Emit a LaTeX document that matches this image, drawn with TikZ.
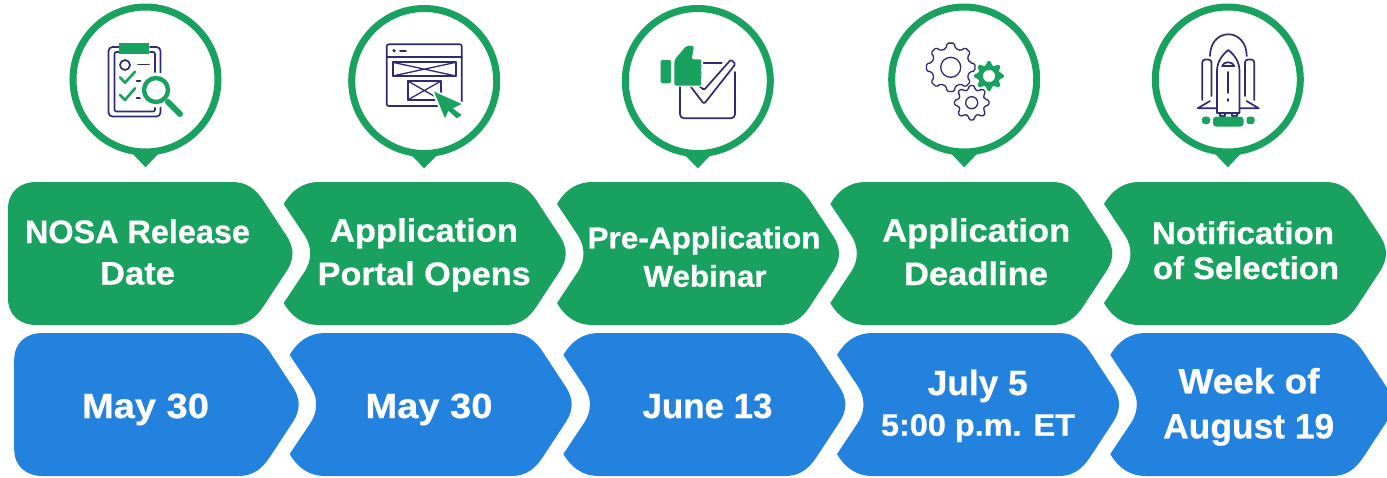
\documentclass[tikz,border=0pt]{standalone}
\usepackage{fontspec}
\usepackage{graphicx}
\setmainfont[BoldFeatures={FakeBold=0.6}]{Liberation Sans}
\definecolor{grn}{HTML}{19A25F}
\definecolor{blu}{HTML}{2482DF}
\definecolor{nvy}{HTML}{2F2B70}
\tikzset{
  ring/.style={circle,draw=grn,line width=7pt,fill=white,minimum size=145pt,inner sep=0pt},
  lbl/.style={text=white,font=\bfseries,inner sep=0pt,anchor=base},
  ink/.style={draw=nvy,line width=1.7pt,line cap=round,line join=round},
  thinink/.style={draw=nvy,line width=1.3pt,line cap=round,line join=round},
  gink/.style={draw=grn,line cap=round,line join=round}
}
\newcommand\rside{-- (222,0) .. controls (236,0) and (245,7) .. (252.5,18) -- (276.5,54.5) .. controls (280,60) and (282,66) .. (282,71.5) .. controls (282,77) and (280,83) .. (276.5,88.5) -- (252.5,125) .. controls (245,136) and (236,143) .. (222,143)}
\newcommand\chevA[3]{\fill[#3,shift={(#1,#2)}] (0,22) .. controls (8,8) and (20,0) .. (35,0) \rside -- (35,143) .. controls (20,143) and (8,135) .. (0,121) -- (21,89.5) .. controls (24.5,84) and (26.5,78) .. (26.5,71.5) .. controls (26.5,65) and (24.5,59) .. (21,53.5) -- cycle;}
\newcommand\chevF[3]{\fill[#3,shift={(#1,#2)}] (-2.5,27) .. controls (-2.5,10) and (9,0) .. (26,0) \rside -- (26,143) .. controls (9,143) and (-2.5,133) .. (-2.5,116) -- cycle;}
\newcommand\lab[6]{\node[lbl] (#1) at (#2,#3) {\fontsize{#4}{#4}\selectfont\resizebox{#5pt}{\height}{#6}};}
\newcommand\pin[4]{\node[ring] (#1) at (#2,#3) {};\fill[grn] ([xshift=-15pt,yshift=-72pt]#1.center) -- ([xshift=15pt,yshift=-72pt]#1.center) -- ([yshift=-#4pt]#1.center) -- cycle;}
% gear: cx cy Ro Ri n style
\newcommand\gear[6]{\begin{scope}[shift={(#1,#2)}]
 \pgfmathsetmacro\st{360/#5}\pgfmathsetmacro\da{0.29*\st}\pgfmathsetmacro\db{0.2*\st}
 \path[#6,rounded corners=1.6pt] (-\da:#4) \foreach \i in {1,...,#5}{ -- ({(\i-1)*\st-\db}:#3) -- ({(\i-1)*\st+\db}:#3) -- ({(\i-1)*\st+\da}:#4) -- ({\i*\st-\da}:#4)} -- cycle;
 \end{scope}}
\begin{document}
\begin{tikzpicture}[x=1pt,y=-1pt]
\clip (0,0) rectangle (1387,477);
% green row
\chevF{10.5}{182}{grn}
\chevA{283.7}{182}{grn}
\chevA{557}{182}{grn}
\chevA{830.3}{182}{grn}
\chevA{1104}{182}{grn}
% blue row
\chevF{16.7}{333}{blu}
\chevA{289.7}{333}{blu}
\chevA{563.4}{333}{blu}
\chevA{837}{333}{blu}
\chevA{1110.3}{333}{blu}
% labels
\lab{a1}{137.5}{243}{32.5}{225}{NOSA Release}
\lab{a2}{137.5}{284.5}{32.5}{75}{Date}
\lab{b1}{424}{241.7}{32.5}{188}{Application}
\lab{b2}{424.2}{285}{32.5}{213}{Portal Opens}
\lab{c1}{704}{248.3}{30}{233}{Pre-Application}
\lab{c2}{705}{286.7}{30}{123}{Webinar}
\lab{d1}{976.2}{241.7}{32.5}{188}{Application}
\lab{d2}{976}{285}{32.5}{144}{Deadline}
\lab{e1}{1243}{244}{31.5}{182}{Notification}
\lab{e2}{1246}{279}{31.5}{186}{of Selection}
\lab{f1}{145.5}{418}{35}{127}{May 30}
\lab{g1}{429}{418}{35}{127}{May 30}
\lab{h1}{707.5}{418}{35}{130}{June 13}
\lab{i1}{977.7}{395}{35}{100}{July 5}
\lab{i2}{978}{435.7}{31}{194}{5:00 p.m. ET}
\lab{j1}{1249}{393.3}{35}{141}{Week of}
\lab{j2}{1248.7}{438.3}{35}{171}{August 19}
% pins
\pin{p1}{145.5}{79.5}{87.8}
\pin{p2}{424.2}{81}{87.3}
\pin{p3}{697.8}{81}{87.3}
\pin{p4}{964.2}{79.5}{87.8}
\pin{p5}{1227.8}{79.5}{87.8}
% icon 1: clipboard
\draw[ink,rounded corners=4pt] (119,47) -- (108.5,47) -- (108.5,116.5) -- (160.5,116.5) -- (160.5,47) -- (150,47);
\draw[ink,rounded corners=2pt] (119,52) -- (114.5,52) -- (114.5,111.5) -- (155,111.5) -- (155,52) -- (150,52);
\fill[grn] (119.3,43.3) rectangle (149.3,54);
\draw[ink] (125,65) circle (5);
\draw[ink] (138,64.5) -- (149,64.5);
\draw[gink,line width=2.6pt] (120,77.3) -- (125,82.7) -- (135,71.7);
\draw[gink,line width=2.6pt] (120,95) -- (125,100) -- (135,88.3);
\draw[ink] (136.7,80.7) -- (141.7,80.7) (136.7,97.7) -- (141.7,97.7);
\draw[white,line width=9pt] (166.7,100) -- (172,106);
\filldraw[fill=white,draw=white,line width=3pt] (156,90) circle (16);
\draw[grn,line width=4.4pt,fill=white] (156,90) circle (12);
\draw[gink,line width=6pt] (168,102) -- (180,114);
% icon 2: window
\draw[ink,rounded corners=2pt] (386.7,44.3) rectangle (461.7,106);
\draw[ink] (386.7,56.7) -- (461.7,56.7);
\fill[nvy] (394,50.7) circle (1.8);
\draw[ink] (400,50.7) -- (406,50.7);
\draw[ink,line width=2.2pt] (392.7,62.3) rectangle (456,76);
\draw[thinink] (392.7,62.3) -- (456,76) (392.7,76) -- (456,62.3);
\draw[ink,line width=2.2pt] (407.7,81) rectangle (441,100);
\draw[thinink] (407.7,81) -- (441,100) (407.7,100) -- (441,81);
\path[fill=white,draw=white,line width=4pt,line join=round] (434,91.7) -- (461.7,104) -- (452.7,108.3) -- (461.7,115) -- (456.7,118.3) -- (448.3,110.7) -- (445,118.3) -- cycle;
\fill[grn] (434,91.7) -- (461.7,104) -- (452.7,108.3) -- (461.7,115) -- (456.7,118.3) -- (448.3,110.7) -- (445,118.3) -- cycle;
% icon 3: thumbs up and check box
\draw[ink] (703,63.3) -- (721.7,63.3);
\draw[ink,rounded corners=4pt] (735,72) -- (735,118.3) -- (680,118.3) -- (680,85);
\filldraw[fill=white,draw=white,line width=3pt,line join=round] (691,87) -- (704,103) -- (735.5,64) -- (731,59.5) -- (704,90) -- (698,85) -- cycle;
\draw[ink,rounded corners=1.5pt] (691,87) -- (704,104) -- (735.5,64) -- (731,59.5) -- (704,90) -- (698,85);
\fill[grn,rounded corners=1.5pt] (660.7,60) rectangle (671,83.3);
\path[fill=white,draw=white,line width=3pt,line join=round] (674.3,60) -- (686.7,46) -- (693.3,46.7) -- (691.7,59.3) -- (701.7,59.3) -- (701.7,85) -- (674.3,85) -- cycle;
\fill[grn,rounded corners=2pt] (674.3,60) -- (686.7,45.5) -- (694,46) -- (691.7,59.3) -- (701.7,59.3) -- (700.5,66) -- (701.7,67) -- (700.5,73) -- (701.7,74) -- (700.5,80) -- (701.7,85.5) -- (674.3,85.5) -- cycle;
% icon 4: gears
\gear{950.7}{67.3}{24.5}{19.5}{8}{thinink,fill=white}
\draw[thinink] (950.7,67.3) circle (10);
\gear{989}{76}{15}{11}{8}{fill=grn}
\fill[white] (989,76) circle (6);
\gear{971.7}{102.7}{17.5}{13.5}{8}{thinink,fill=white}
\draw[thinink] (971.7,102.7) circle (6);
% icon 5: rocket
\draw[ink] (1210,56) .. controls (1210,43) and (1218,34.3) .. (1228.3,34.3) .. controls (1238.6,34.3) and (1246.7,43) .. (1246.7,56);
\draw[ink] (1217,113) -- (1217,71) .. controls (1217,62) and (1222,55) .. (1228.3,50) .. controls (1234.6,55) and (1239.5,62) .. (1239.5,71) -- (1239.5,113) -- cycle;
\draw[ink] (1222,66) .. controls (1224,61) and (1232,61) .. (1234.5,66) -- cycle;
\draw[ink] (1228.3,72) -- (1228.3,93) (1228.3,99) -- (1228.3,101);
\draw[ink,rounded corners=3pt] (1202.3,100) -- (1202.3,59.5) -- (1211.5,59.5) -- (1211.5,96);
\draw[ink,rounded corners=3pt] (1245,96) -- (1245,59.5) -- (1254.2,59.5) -- (1254.2,100);
\draw[ink] (1197.7,108.3) -- (1210,101) (1197.7,108.3) -- (1217,108.3);
\draw[ink] (1258.8,108.3) -- (1246.5,101) (1258.8,108.3) -- (1239.5,108.3);
\draw[ink] (1220,113) -- (1220,116) -- (1225,116) -- (1225,113) (1232,113) -- (1232,116) -- (1237,116) -- (1237,113);
\fill[grn,rounded corners=2.5pt] (1202,116.7) rectangle (1210,124);
\fill[grn,rounded corners=3pt] (1213,116.7) rectangle (1243.5,126.5);
\fill[grn,rounded corners=2.5pt] (1246.5,116.7) rectangle (1254.5,124);
\end{tikzpicture}
\end{document}
